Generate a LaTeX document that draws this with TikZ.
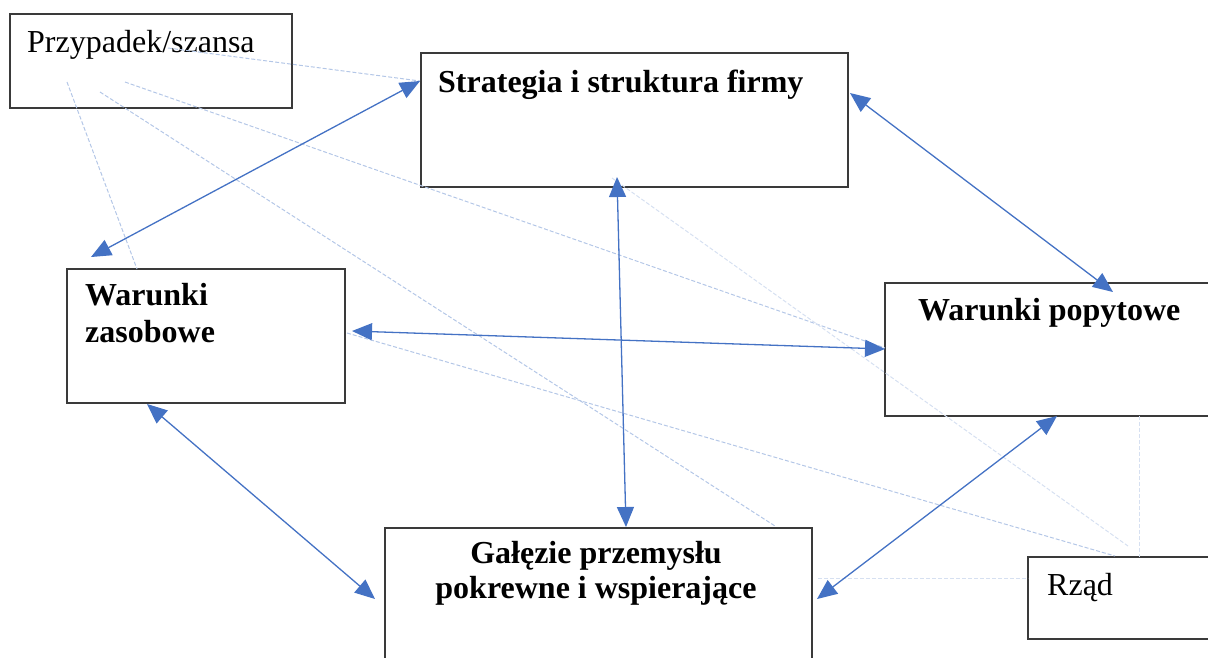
\documentclass[tikz,border=0pt]{standalone}
\usepackage{fontspec}
\setmainfont{Liberation Serif}
\usetikzlibrary{arrows.meta,calc}
\definecolor{linkblue}{HTML}{4472C4}
\definecolor{faintblue}{HTML}{B4C7E7}
\definecolor{paleblue}{HTML}{D6E0F1}
\definecolor{boxline}{HTML}{3A3A3A}
\tikzset{
  box/.style={draw=boxline, line width=1.4pt, rectangle, inner sep=0pt, outer sep=0pt, anchor=north west},
  plain/.style={inner sep=0pt, font=\fontsize{32}{38}\selectfont},
  heading/.style={inner sep=0pt, font=\fontsize{32}{38}\selectfont\bfseries},
  link/.style={draw=linkblue, line width=1.3pt, {Triangle[length=20pt,width=17pt]}-{Triangle[length=20pt,width=17pt]}},
  influence/.style={draw=faintblue, line width=1pt, dash pattern=on 4pt off 2pt},
  weakinfluence/.style={draw=paleblue, line width=1pt, dash pattern=on 4pt off 2pt}
}
\begin{document}
\begin{tikzpicture}[x=1pt,y=-1pt]
\useasboundingbox (0,0) rectangle (1208,657);
\clip (0,0) rectangle (1208,657);

% boxes
\node[box, minimum width=282pt, minimum height=94pt]  (chance) at (10,14)   {};
\node[box, minimum width=427pt, minimum height=134pt] (strat)  at (421,53)  {};
\node[box, minimum width=278pt, minimum height=134pt] (res)    at (67,269)  {};
\node[box, minimum width=340pt, minimum height=133pt] (dem)    at (885,283) {};
\node[box, minimum width=427pt, minimum height=150pt] (rel)    at (385,528) {};
\node[box, minimum width=200pt, minimum height=82pt]  (gov)    at (1028,557) {};

% labels
\node[plain, anchor=base west]   (chancetxt) at (27,52)   {Przypadek/szansa};
\node[heading, anchor=base west] (strattxt)  at (438,92)  {Strategia i struktura firmy};
\node[heading, anchor=base west] (restxtA)   at (85,305)  {Warunki};
\node[heading, anchor=base west] (restxtB)   at (85,342)  {zasobowe};
\node[heading, anchor=base west] (demtxt)    at (918,320) {Warunki popytowe};
\node[heading, anchor=base]      (reltxtA)   at (596,563) {Gałęzie przemysłu};
\node[heading, anchor=base]      (reltxtB)   at (596,598) {pokrewne i wspierające};
\node[plain, anchor=base west]   (govtxt)    at (1047,595) {Rząd};

% chance and government influences (dashed)
\draw[influence] ($(chance.north west)+(158,34)$) -- ($(strat.north west)+(-1,28)$);
\draw[influence] ($(chance.north west)+(57,68)$) -- ($(res.north west)+(70,0)$);
\draw[influence] ($(chance.north west)+(90,78)$) -- ($(rel.north east)+(-37,-2)$);
\draw[influence] ($(chance.north west)+(115,68)$) -- ($(dem.north west)+(0,65)$);
\draw[weakinfluence] ($(strat.south west)+(191,-9)$) -- ($(gov.north west)+(100,-11)$);
\draw[influence] ($(res.north east)+(2,64)$) -- ($(gov.north west)+(87,-1)$);
\draw[weakinfluence] ($(dem.south west)+(254,0)$) -- ($(gov.north west)+(111,0)$);
\draw[weakinfluence] ($(rel.north east)+(6,50)$) -- ($(gov.north west)+(0,21)$);

% mutual links between the four determinants
\draw[link] ($(strat.north west)+(-1,28)$) -- ($(res.north west)+(24,-12)$);
\draw[link] ($(strat.north east)+(2,40)$) -- ($(dem.north west)+(228,9)$);
\draw[link] ($(strat.south west)+(196,-10)$) -- ($(rel.north west)+(241,-1)$);
\draw[link] ($(res.north east)+(7,62)$) -- ($(dem.north west)+(0,66)$);
\draw[link] ($(res.south west)+(80,1)$) -- ($(rel.north west)+(-10,71)$);
\draw[link] ($(rel.north east)+(5,71)$) -- ($(dem.south west)+(172,0)$);
\end{tikzpicture}
\end{document}
